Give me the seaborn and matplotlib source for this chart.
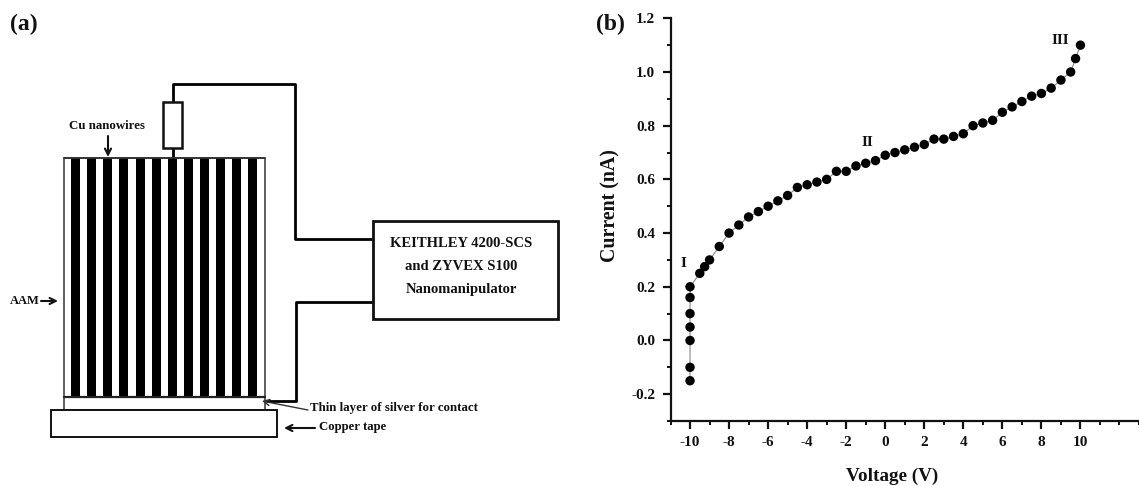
import matplotlib
matplotlib.use("Agg")
import matplotlib.pyplot as plt
from matplotlib.patches import Rectangle
from matplotlib.ticker import MultipleLocator
import pandas as pd
import seaborn as sns

W, H = 1139, 486

# panel (b) data
voltage = [-10, -10, -10, -10, -10, -10, -10, -9.5, -9.25, -9, -8.5, -8, -7.5, -7, -6.5, -6,
           -5.5, -5, -4.5, -4, -3.5, -3, -2.5, -2, -1.5, -1, -0.5, 0, 0.5, 1, 1.5, 2, 2.5, 3,
           3.5, 4, 4.5, 5, 5.5, 6, 6.5, 7, 7.5, 8, 8.5, 9, 9.5, 9.75, 10]
current = [-0.15, -0.10, 0.0, 0.05, 0.10, 0.16, 0.20, 0.25, 0.275, 0.30, 0.35, 0.40, 0.43, 0.46,
           0.48, 0.50, 0.52, 0.54, 0.57, 0.58, 0.59, 0.60, 0.63, 0.63, 0.65, 0.66, 0.67, 0.69,
           0.70, 0.71, 0.72, 0.73, 0.75, 0.75, 0.76, 0.77, 0.80, 0.81, 0.82, 0.85, 0.87, 0.89,
           0.91, 0.92, 0.94, 0.97, 1.00, 1.05, 1.10]
x_ticks = [-10, -8, -6, -4, -2, 0, 2, 4, 6, 8, 10]
y_ticks = [-0.2, 0.0, 0.2, 0.4, 0.6, 0.8, 1.0, 1.2]

# panel (a) schematic, in picture pixels
wire_lefts = [71, 87, 103, 119, 135.5, 151.5, 168, 184, 200, 216, 232, 248]
top_wire = [(172.7, 158), (172.7, 84), (295, 84), (295, 239), (373, 239)]
low_wire = [(373, 301.5), (295.5, 301.5), (295.5, 401), (267, 401)]

sns.set_theme(style="ticks")
plt.rcParams["font.family"] = ["Liberation Serif", "DejaVu Serif"]
plt.rcParams["font.weight"] = "bold"
plt.rcParams["axes.unicode_minus"] = False
INK = "#111111"

fig = plt.figure(figsize=(W / 100, H / 100), dpi=100)

# chart
left, right, top, bottom = 670.5, 1139, 18.3, 421
ax = fig.add_axes([left / W, 1 - bottom / H, (right - left) / W, (bottom - top) / H])
df = pd.DataFrame({"voltage": voltage, "current": current})
# estimator=None or the repeated -10 V readings get averaged into one
sns.lineplot(data=df, x="voltage", y="current", sort=False, estimator=None, ax=ax,
             color="#888888", linewidth=0.8, zorder=1)
sns.scatterplot(data=df, x="voltage", y="current", ax=ax, color="black", s=46,
                edgecolor="none", zorder=2, clip_on=False)
ax.set_xlim(-11, 13)
ax.set_ylim(-0.3, 1.2)
ax.set_xticks(x_ticks)
ax.set_xticklabels([str(v) for v in x_ticks])
ax.set_yticks(y_ticks)
ax.set_yticklabels([f"{v:.1f}" for v in y_ticks])
ax.xaxis.set_minor_locator(MultipleLocator(1))
ax.yaxis.set_minor_locator(MultipleLocator(0.1))
ax.tick_params(axis="both", which="major", length=6, width=1.6, labelsize=11,
               colors=INK, pad=5)
ax.tick_params(axis="both", which="minor", length=3, width=1.4, colors=INK)
ax.set_xlabel("Voltage (V)", fontsize=13.8, fontweight="bold", color=INK)
ax.set_ylabel("Current (nA)", fontsize=14.3, fontweight="bold", color=INK)
ax.xaxis.set_label_coords(0.473, -0.117)
ax.yaxis.set_label_coords(-0.106, 0.534)
sns.despine(ax=ax)
for side in ["left", "bottom"]:
    ax.spines[side].set_linewidth(1.6)
    ax.spines[side].set_color(INK)

# overlay in pixel coordinates
ov = fig.add_axes([0, 0, 1, 1], zorder=5)
ov.set_xlim(0, W)
ov.set_ylim(H, 0)
ov.axis("off")
ov.patch.set_alpha(0)


def box(x0, y0, x1, y1, lw=1.6, fc="white", ec=INK, z=2):
    ov.add_patch(Rectangle((x0, y0), x1 - x0, y1 - y0, fc=fc, ec=ec, lw=lw, zorder=z))


def arrow(x0, y0, x1, y1, lw=1.5, color=INK):
    ov.annotate("", xy=(x1, y1), xytext=(x0, y0),
                arrowprops=dict(arrowstyle="->", lw=lw, color=color, mutation_scale=11,
                                shrinkA=0, shrinkB=0), zorder=6)


def label(x, y, s, size=7, ha="center"):
    ov.text(x, y, s, fontsize=size, fontweight="bold", color=INK, ha=ha, va="center", zorder=7)


box(63.5, 158, 265, 397, lw=1.1, ec="#333333")
for x0 in wire_lefts:
    box(x0, 158, x0 + 9.3, 397, lw=0, fc="black", ec="none", z=3)
ov.plot([63.5, 265], [158, 158], color="#333333", lw=1.3, zorder=4)
ov.plot([63.5, 265], [397, 397], color="#222222", lw=1.6, zorder=4)
box(63.5, 397, 265, 410, lw=1.1, ec="#333333")
box(51, 410, 277, 436.7, lw=1.4)

ov.plot(*zip(*top_wire), color="black", lw=2, solid_joinstyle="round", zorder=3)
ov.plot(*zip(*low_wire), color="black", lw=2, solid_joinstyle="round", zorder=3)
box(163.3, 102, 181.7, 148.3, lw=1.8, z=4)
box(373.3, 220.7, 557.7, 319.3, lw=2, z=4)

label(107, 126, "Cu nanowires", 9.3)
arrow(108, 136, 108, 157)
label(24.5, 301, "AAM", 9)
arrow(41, 301, 58, 301)
label(310.5, 407.5, "Thin layer of silver for contact", 9.3, ha="left")
arrow(308, 410, 262, 401, lw=1, color="#333333")
label(319, 427, "Copper tape", 9.2, ha="left")
arrow(315, 428, 284, 428)
label(461, 243, "KEITHLEY 4200-SCS", 10.5)
label(461, 266.5, "and ZYVEX S100", 10.5)
label(461, 289, "Nanomanipulator", 10.5)

label(10, 24, "(a)", 17, ha="left")
label(596, 24, "(b)", 17, ha="left")
label(1060, 41, "III", 11)
label(867, 142, "II", 11)
label(683, 263, "I", 11)

fig.savefig("out.png", dpi=100, facecolor="white")
